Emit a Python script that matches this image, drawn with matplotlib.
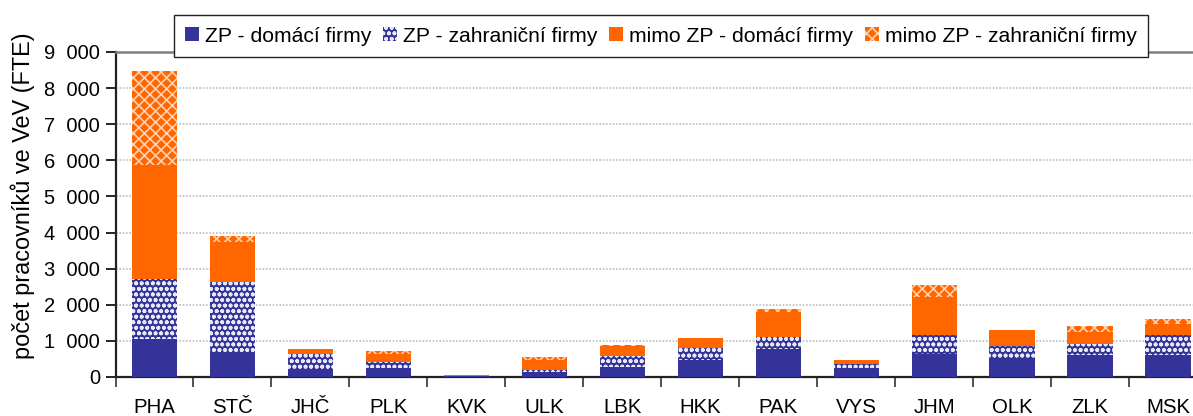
import matplotlib
matplotlib.use("Agg")
import matplotlib.pyplot as plt
import numpy as np
from matplotlib.ticker import FixedLocator, FuncFormatter

plt.rcParams['font.family'] = ['Liberation Sans', 'DejaVu Sans']
plt.rcParams['hatch.linewidth'] = 1.2

regions = ["PHA", "STČ", "JHČ", "PLK", "KVK", "ULK", "LBK", "HKK", "PAK", "VYS", "JHM", "OLK", "ZLK", "MSK"]
zp_domaci = [1060, 673, 214, 250, 25, 130, 270, 465, 769, 250, 630, 528, 622, 622]
zp_zahranicni = [1654, 1967, 418, 160, 15, 57, 315, 343, 342, 102, 528, 325, 295, 534]
mimo_domaci = [3156, 1107, 140, 214, 10, 278, 270, 270, 695, 111, 1064, 444, 333, 305]
mimo_zahranicni = [2605, 158, 0, 92, 6, 84, 28, 0, 66, 20, 325, 0, 158, 139]

series_labels = ["ZP - domácí firmy", "ZP - zahraniční firmy", "mimo ZP - domácí firmy", "mimo ZP - zahraniční firmy"]
y_label = "počet pracovníků ve VeV (FTE)"

W, H = 1193, 416
fig = plt.figure(figsize=(W / 100, H / 100), dpi=100)
left_px, right_px, top_px, bottom_px = 115.5, 1207.0, 52.0, 377.0
ax = fig.add_axes([left_px / W, (H - bottom_px) / H, (right_px - left_px) / W, (bottom_px - top_px) / H])

x = np.arange(len(regions))
bw = 0.58
blue = '#333399'
orange = '#FF6600'

b1 = ax.bar(x, zp_domaci, bw, color=blue, linewidth=0, zorder=3)
bottom = np.array(zp_domaci, dtype=float)
b2 = ax.bar(x, zp_zahranicni, bw, bottom=bottom, facecolor=blue, edgecolor='#E8E8F4',
            hatch='ooo', linewidth=0, zorder=3)
bottom += zp_zahranicni
b3 = ax.bar(x, mimo_domaci, bw, bottom=bottom, color=orange, linewidth=0, zorder=3)
bottom += mimo_domaci
b4 = ax.bar(x, mimo_zahranicni, bw, bottom=bottom, facecolor=orange, edgecolor='#FFD2B0',
            hatch='xxx', linewidth=0, zorder=3)

ax.set_xlim(-0.5, len(regions) - 0.5)
ax.set_ylim(0, 9000)
ax.yaxis.set_major_locator(FixedLocator(np.arange(0, 9001, 1000)))
ax.yaxis.set_major_formatter(FuncFormatter(lambda v, p: f"{int(v):,}".replace(",", "\u2007")))
ax.grid(axis='y', color='#BDBDBD', linestyle=(0, (1, 1)), linewidth=1.2, zorder=0)

ax.set_xticks(x)
ax.set_xticklabels(regions)
ax.set_xticks(np.arange(-0.5, len(regions), 1.0), minor=True)
ax.tick_params(axis='x', which='major', length=0, pad=15, labelsize=14.7)
ax.tick_params(axis='x', which='minor', length=7, width=1.2, direction='out', color='#333333')
ax.tick_params(axis='y', which='major', length=7, width=1.2, direction='out', labelsize=14.5, pad=4)

for s in ['left', 'bottom']:
    ax.spines[s].set_color('#222222')
    ax.spines[s].set_linewidth(1.6)
ax.spines['top'].set_color('#7F7F7F')
ax.spines['top'].set_linewidth(1.8)
ax.spines['right'].set_visible(False)

ax.set_ylabel(y_label, fontsize=16.9, va='center', ha='center')
ax.yaxis.set_label_coords((23 - left_px) / (right_px - left_px), (bottom_px - 196) / (bottom_px - top_px))

leg = ax.legend([b1, b2, b3, b4], series_labels, ncol=4, loc='center',
                bbox_to_anchor=(661 / W, (H - 36) / H), bbox_transform=fig.transFigure,
                fontsize=15.2, frameon=True, fancybox=False, shadow=False,
                handlelength=0.65, handleheight=0.65, handletextpad=0.3,
                columnspacing=0.55, borderpad=0.55, borderaxespad=0)
leg.get_frame().set_edgecolor('#222222')
leg.get_frame().set_linewidth(1.0)
leg.get_frame().set_alpha(1)
leg.set_zorder(10)

fig.savefig('out.png', dpi=100)
